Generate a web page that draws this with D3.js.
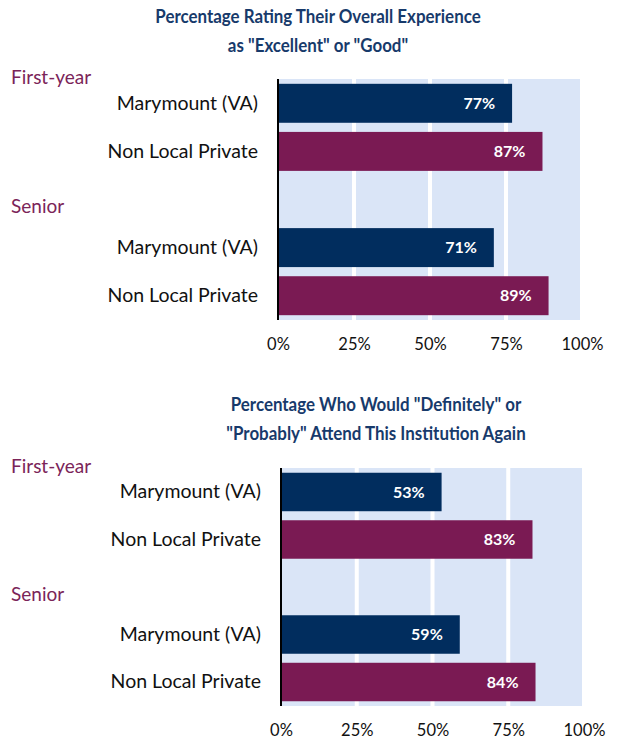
<!DOCTYPE html>
<html>
<head>
<meta charset="utf-8">
<script src="https://cdn.jsdelivr.net/npm/d3@7"></script>
<style>
  body { margin: 0; background: #fff; }
  svg { display: block; font-family: Lato, "Open Sans", sans-serif; }
</style>
</head>
<body>
<svg width="617" height="740"></svg>
<script>
// data
var groups = ["First-year", "Senior"];
var schools = ["Marymount (VA)", "Non Local Private"];
var experienceTitle = ["Percentage Rating Their Overall Experience", "as \"Excellent\" or \"Good\""];
var experienceValues = [77, 87, 71, 89];
var attendTitle = ["Percentage Who Would \"Definitely\" or", "\"Probably\" Attend This Institution Again"];
var attendValues = [53, 83, 59, 84];
var tickValues = [0, 25, 50, 75, 100];

var navy = "#012d5e",
    plum = "#7a1a53",
    bg = "#dae5f7",
    titleColor = "#173a6b";

var svg = d3.select("svg");

// slots: bars for each group with one empty slot between
var slots = ["g0s0", "g0s1", "gap", "g1s0", "g1s1"];

function drawChart(opts) {
    var rows = [];
    opts.values.forEach(function(v, i) {
        rows.push({
            key: "g" + Math.floor(i / 2) + "s" + (i % 2),
            school: i % 2,
            value: v
        });
    });

    var x = d3.scaleLinear().domain([0, 100]).range([opts.left, opts.right]);
    var y = d3.scaleBand().domain(slots).range([opts.top, opts.bottom])
        .paddingInner(0.19).paddingOuter(0.1);

    var g = svg.append("g");

    // title (squeezed a bit, the source looks narrow)
    g.append("g")
        .attr("transform", "translate(" + opts.titleX + "," + opts.titleY + ") scale(0.94,1)")
        .append("text")
        .attr("text-anchor", "middle")
        .style("font-weight", "bold")
        .style("font-size", "18px")
        .style("fill", titleColor)
        .selectAll("tspan")
        .data(opts.title)
        .enter().append("tspan")
        .attr("x", 0)
        .attr("dy", function(d, i) { return i ? 29 : 0; })
        .text(function(d) { return d; });

    // plot background
    g.append("rect")
        .attr("x", x(0))
        .attr("y", opts.top)
        .attr("width", x(100) - x(0))
        .attr("height", opts.bottom - opts.top)
        .style("fill", bg);

    // white gridlines
    g.selectAll(".grid")
        .data(tickValues.slice(1))
        .enter().append("line")
        .attr("class", "grid")
        .attr("x1", function(d) { return x(d); })
        .attr("x2", function(d) { return x(d); })
        .attr("y1", opts.top)
        .attr("y2", opts.bottom)
        .style("stroke", "#fff")
        .style("stroke-width", 4);

    // bars
    g.selectAll(".bar")
        .data(rows)
        .enter().append("rect")
        .attr("class", "bar")
        .attr("x", x(0))
        .attr("y", function(d) { return y(d.key); })
        .attr("width", function(d) { return x(d.value) - x(0); })
        .attr("height", y.bandwidth())
        .style("fill", function(d) { return d.school ? plum : navy; });

    // value labels
    g.selectAll(".val")
        .data(rows)
        .enter().append("text")
        .attr("class", "val")
        .attr("x", function(d) { return x(d.value) - 17; })
        .attr("y", function(d) { return y(d.key) + y.bandwidth() / 2; })
        .attr("dy", "0.36em")
        .attr("text-anchor", "end")
        .style("fill", "#fff")
        .style("font-weight", "bold")
        .style("font-size", "16px")
        .text(function(d) { return d.value + "%"; });

    // x axis
    var xAxis = g.append("g")
        .attr("transform", "translate(0," + (opts.bottom + 8) + ")")
        .call(d3.axisBottom(x).tickValues(tickValues).tickSize(0).tickPadding(10)
            .tickFormat(function(d) { return d + "%"; }));
    xAxis.select(".domain").remove();
    xAxis.selectAll("text")
        .style("font-family", "Lato, sans-serif")
        .style("font-size", "16.5px")
        .style("fill", "#111");

    // y axis
    var yAxis = g.append("g")
        .attr("transform", "translate(" + x(0) + ",0)")
        .call(d3.axisLeft(y).tickSize(0).tickSizeOuter(0).tickPadding(20)
            .tickFormat(function(d) { return d === "gap" ? "" : schools[+d.slice(-1)]; }));
    yAxis.select(".domain")
        .attr("d", "M0," + opts.top + "V" + opts.bottom)
        .style("stroke", "#000")
        .style("stroke-width", 2);
    yAxis.selectAll("text")
        .style("font-family", "Lato, sans-serif")
        .style("font-size", "19.5px")
        .style("fill", "#111");

    // group labels
    g.selectAll(".grp")
        .data(groups)
        .enter().append("text")
        .attr("class", "grp")
        .attr("x", 11)
        .attr("y", function(d, i) {
            return i ? y("gap") + y.bandwidth() / 2 + 7 : opts.top - 2;
        })
        .attr("dy", "0.35em")
        .style("font-size", "19px")
        .style("fill", "#7b2459")
        .text(function(d) { return d; });
}

drawChart({
    title: experienceTitle, values: experienceValues,
    titleX: 318, titleY: 23,
    left: 278, right: 582, top: 79, bottom: 320
});

drawChart({
    title: attendTitle, values: attendValues,
    titleX: 376, titleY: 411,
    left: 281, right: 584, top: 468, bottom: 706
});
</script>
</body>
</html>
